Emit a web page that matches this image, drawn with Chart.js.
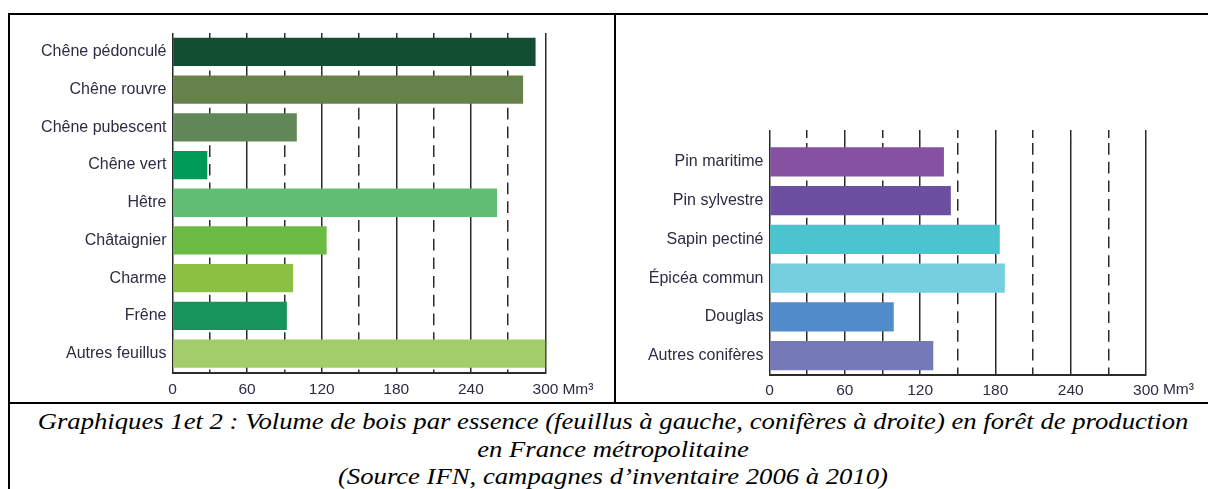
<!DOCTYPE html>
<html>
<head>
<meta charset="utf-8">
<script src="https://cdn.jsdelivr.net/npm/chart.js@4.4.0/dist/chart.umd.min.js"></script>
<style>
  body { margin: 0; background: #fff; width: 1208px; height: 489px; overflow: hidden; position: relative; }
  .rule { position: absolute; background: #000; }
  canvas { position: absolute; }
  #caption {
    position: absolute; left: 10px; top: 408px; width: 1206px;
    text-align: center; font: italic 23px "Liberation Serif", "Times New Roman", serif;
    line-height: 27.5px; color: #000;
    transform: scaleX(1.16); transform-origin: 603px 0;
    white-space: nowrap;
  }
</style>
</head>
<body>
<div class="rule" style="left:8px;top:13px;width:1200px;height:2px"></div>
<div class="rule" style="left:8px;top:13px;width:2px;height:476px"></div>
<div class="rule" style="left:614px;top:13px;width:2px;height:390px"></div>
<div class="rule" style="left:8px;top:402px;width:1200px;height:2px"></div>

<canvas id="feuillusChart" width="604" height="387" style="left:10px;top:15px"></canvas>
<canvas id="coniferesChart" width="592" height="387" style="left:616px;top:15px"></canvas>

<div id="caption">Graphiques 1et 2 : Volume de bois par essence (feuillus à gauche, conifères à droite) en forêt de production<br>en France métropolitaine<br>(Source IFN, campagnes d’inventaire 2006 à 2010)</div>

<script>
// volumes in Mm3
const feuillusLabels = ['Chêne pédonculé', 'Chêne rouvre', 'Chêne pubescent', 'Chêne vert', 'Hêtre', 'Châtaignier', 'Charme', 'Frêne', 'Autres feuillus'];
const feuillusValues = [292, 282, 100, 28, 261, 124, 97, 92, 300];
const feuillusColors = ['#124e32', '#66824a', '#62885a', '#009a58', '#62bd74', '#6cbb45', '#8ac142', '#17945c', '#a2cd6a'];

const coniferesLabels = ['Pin maritime', 'Pin sylvestre', 'Sapin pectiné', 'Épicéa commun', 'Douglas', 'Autres conifères'];
const coniferesValues = [139, 144.5, 183.5, 187.5, 99, 130.5];
const coniferesColors = ['#8452a1', '#6c4fa0', '#4cc4d0', '#75cfdf', '#518bca', '#7579b8'];

const axisTicks = [0, 60, 120, 180, 240, 300];
const axisUnit = 'Mm³';

const GRID = '#2b2b2b';
const TEXT = '#2c2c42';
const FONT = 'Liberation Sans';

// draws the unit right after the last x tick label
const unitPlugin = {
  id: 'unit',
  afterDraw(chart) {
    const s = chart.scales.x;
    const ctx = chart.ctx;
    const last = axisTicks[axisTicks.length - 1];
    ctx.save();
    ctx.font = '15.5px "' + FONT + '"';
    ctx.fillStyle = TEXT;
    ctx.textAlign = 'left';
    ctx.textBaseline = 'middle';
    const x = s.getPixelForValue(last) + ctx.measureText(String(last)).width / 2 + 4;
    ctx.fillText(axisUnit, x, s.top + s.options.ticks.padding + 9);
    ctx.restore();
  }
};

function makeChart(id, labels, values, colors, box) {
  return new Chart(document.getElementById(id), {
    type: 'bar',
    data: {
      labels: labels,
      datasets: [{
        data: values,
        backgroundColor: colors,
        categoryPercentage: 1,
        barPercentage: 0.75
      }]
    },
    options: {
      indexAxis: 'y',
      responsive: false,
      animation: false,
      layout: { padding: { top: box.top, right: box.right, left: 0, bottom: 0 } },
      plugins: { legend: { display: false }, tooltip: { enabled: false } },
      scales: {
        x: {
          position: 'bottom',
          min: 0,
          max: 300,
          afterBuildTicks: s => { s.ticks = axisTicks.map(v => ({ value: v })); },
          afterFit: s => { s.height = box.bottom; },
          grid: { color: GRID, lineWidth: 1.5, drawTicks: false },
          border: { color: GRID, width: 2 },
          ticks: { padding: box.tickPad, color: TEXT, font: { family: FONT, size: 15.5 } }
        },
        x2: {
          axis: 'x',
          position: 'top',
          min: 0,
          max: 300,
          ticks: { display: false, stepSize: 30 },
          grid: {
            color: c => (c.tick && c.tick.value % 60) ? GRID : 'transparent',
            lineWidth: 1.5,
            drawTicks: box.ext > 0,
            tickLength: box.ext,
            tickWidth: 1.5,
            tickColor: GRID,
            tickBorderDash: c => (c.tick && c.tick.value % 60) ? [8, 30] : []
          },
          border: { display: false, dash: [11.7, 7] }
        },
        y: {
          grid: { display: false, drawTicks: false },
          border: { display: false },
          ticks: { padding: 6, color: TEXT, font: { family: FONT, size: 16 } },
          afterFit: s => { s.width = box.left; }
        }
      }
    },
    plugins: [unitPlugin]
  });
}

makeChart('feuillusChart', feuillusLabels, feuillusValues, feuillusColors,
  { left: 162.5, right: 68.5, top: 18, bottom: 29.5, ext: 0, tickPad: 8 });
makeChart('coniferesChart', coniferesLabels, coniferesValues, coniferesColors,
  { left: 153.5, right: 62, top: 115, bottom: 27, ext: 12.5, tickPad: 6 });
</script>
</body>
</html>
